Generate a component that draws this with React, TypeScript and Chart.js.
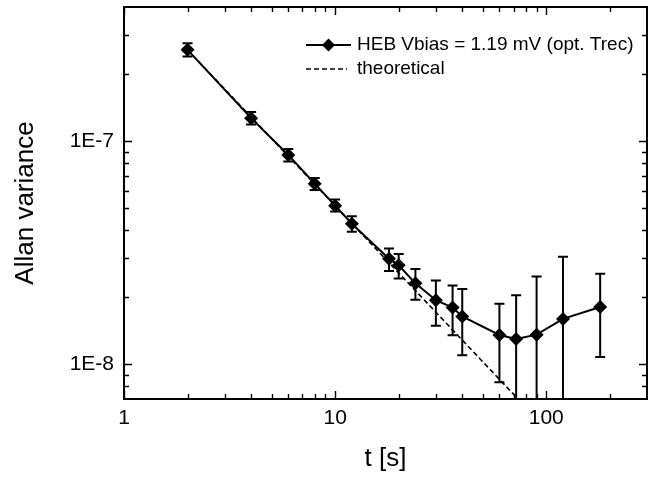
import React, { useEffect, useRef } from "react";
import { Chart, registerables } from "chart.js";

Chart.register(...registerables);

// ---- data ----
const tValues = [2, 4, 6, 8, 10, 12, 18, 20, 24, 30, 36, 40, 60, 72, 90, 120, 180];
const allanVar = [
  2.57e-7, 1.27e-7, 8.69e-8, 6.46e-8, 5.15e-8, 4.27e-8, 2.98e-8, 2.78e-8, 2.31e-8,
  1.94e-8, 1.8e-8, 1.64e-8, 1.355e-8, 1.3e-8, 1.36e-8, 1.6e-8, 1.81e-8,
];
const errHigh = [
  2.75e-7, 1.355e-7, 9.25e-8, 6.85e-8, 5.48e-8, 4.62e-8, 3.31e-8, 3.13e-8, 2.68e-8,
  2.38e-8, 2.26e-8, 2.18e-8, 1.87e-8, 2.04e-8, 2.48e-8, 3.04e-8, 2.55e-8,
];
const errLow = [
  2.4e-7, 1.19e-7, 8.12e-8, 6.05e-8, 4.85e-8, 3.93e-8, 2.62e-8, 2.43e-8, 1.95e-8,
  1.49e-8, 1.35e-8, 1.1e-8, 8.33e-9, 1e-9, 1e-9, 1e-9, 1.08e-8,
];
const theoryT = [2, 80];
const theoryV = [2.57e-7, 6.43e-9];

const seriesLabels = ["HEB Vbias = 1.19 mV (opt. Trec)", "theoretical"];
const xTickValues = [1, 10, 100];
const xTickLabels = ["1", "10", "100"];
const xMinorTicks = [2, 3, 4, 5, 6, 7, 8, 9, 20, 30, 40, 50, 60, 70, 80, 90, 200];
const yTickValues = [1e-8, 1e-7];
const yTickLabels = ["1E-8", "1E-7"];
const yMinorTicks = [8e-9, 9e-9, 2e-8, 3e-8, 4e-8, 5e-8, 6e-8, 7e-8, 8e-8, 9e-8, 2e-7, 3e-7];
const xTitle = "t [s]";
const yTitle = "Allan variance";

const FONT = "Arial, 'Liberation Sans', Helvetica, sans-serif";

const decorPlugin = {
  id: "decor",
  beforeDatasetsDraw(chart: any) {
    const { ctx, chartArea: a, scales } = chart;
    const x = scales.x;
    const y = scales.y;
    ctx.save();
    ctx.beginPath();
    ctx.rect(a.left, a.top, a.right - a.left, a.bottom - a.top);
    ctx.clip();
    ctx.strokeStyle = "#000";
    ctx.lineWidth = 2;
    tValues.forEach((t, i) => {
      const px = x.getPixelForValue(t);
      const yh = y.getPixelForValue(errHigh[i]);
      const yl = y.getPixelForValue(errLow[i]);
      ctx.beginPath();
      ctx.moveTo(px, yh);
      ctx.lineTo(px, yl);
      ctx.moveTo(px - 5, yh);
      ctx.lineTo(px + 5, yh);
      ctx.moveTo(px - 5, yl);
      ctx.lineTo(px + 5, yl);
      ctx.stroke();
    });
    ctx.restore();
  },
  afterDraw(chart: any) {
    const { ctx, chartArea: a, scales } = chart;
    const x = scales.x;
    const y = scales.y;
    ctx.save();
    ctx.strokeStyle = "#000";
    // ticks
    ctx.lineWidth = 1.4;
    const major = 8;
    const minor = 5;
    const drawX = (v: number, len: number) => {
      const px = Math.round(x.getPixelForValue(v)) + 0.5;
      ctx.beginPath();
      ctx.moveTo(px, a.bottom);
      ctx.lineTo(px, a.bottom - len);
      ctx.moveTo(px, a.top);
      ctx.lineTo(px, a.top + len);
      ctx.stroke();
    };
    const drawY = (v: number, len: number) => {
      const py = Math.round(y.getPixelForValue(v)) + 0.5;
      ctx.beginPath();
      ctx.moveTo(a.left, py);
      ctx.lineTo(a.left + len, py);
      ctx.moveTo(a.right, py);
      ctx.lineTo(a.right - len, py);
      ctx.stroke();
    };
    xTickValues.forEach((v) => drawX(v, major));
    xMinorTicks.forEach((v) => drawX(v, minor));
    yTickValues.forEach((v) => drawY(v, major));
    yMinorTicks.forEach((v) => drawY(v, minor));
    // frame
    ctx.lineWidth = 2;
    ctx.strokeRect(a.left, a.top, a.right - a.left, a.bottom - a.top);

    // legend
    const lx0 = a.left + 182;
    const lx1 = a.left + 227;
    const ly1 = a.top + 38;
    const ly2 = a.top + 62;
    ctx.lineWidth = 2;
    ctx.beginPath();
    ctx.moveTo(lx0, ly1);
    ctx.lineTo(lx1, ly1);
    ctx.stroke();
    const cx = (lx0 + lx1) / 2;
    ctx.fillStyle = "#000";
    ctx.beginPath();
    ctx.moveTo(cx - 6.5, ly1);
    ctx.lineTo(cx, ly1 - 6.5);
    ctx.lineTo(cx + 6.5, ly1);
    ctx.lineTo(cx, ly1 + 6.5);
    ctx.closePath();
    ctx.fill();
    ctx.lineWidth = 1.6;
    ctx.setLineDash([5, 3]);
    ctx.beginPath();
    ctx.moveTo(lx0, ly2);
    ctx.lineTo(lx1 - 4, ly2);
    ctx.stroke();
    ctx.setLineDash([]);
    ctx.font = `19px ${FONT}`;
    ctx.textBaseline = "middle";
    ctx.textAlign = "left";
    ctx.fillText(seriesLabels[0], lx1 + 6, ly1);
    ctx.fillText(seriesLabels[1], lx1 + 6, ly2);
    ctx.restore();
  },
};

export default function App() {
  const ref = useRef<HTMLCanvasElement>(null);
  useEffect(() => {
    if (!ref.current) return;
    const chart = new Chart(ref.current, {
      type: "line",
      data: {
        datasets: [
          {
            label: seriesLabels[0],
            data: tValues.map((t, i) => ({ x: t, y: allanVar[i] })),
            borderColor: "#000",
            backgroundColor: "#000",
            borderWidth: 2,
            pointStyle: "rectRot",
            pointRadius: 7,
            pointBorderWidth: 0,
            pointBackgroundColor: "#000",
            tension: 0,
            order: 0,
          },
          {
            label: seriesLabels[1],
            data: theoryT.map((t, i) => ({ x: t, y: theoryV[i] })),
            borderColor: "#000",
            borderWidth: 1.6,
            borderDash: [5, 3],
            pointRadius: 0,
            tension: 0,
            order: 1,
          },
        ],
      },
      options: {
        animation: false,
        responsive: false,
        devicePixelRatio: 1,
        layout: { padding: { top: 7, right: 6, left: 0, bottom: 0 } },
        plugins: {
          legend: { display: false },
          tooltip: { enabled: false },
        },
        scales: {
          x: {
            type: "logarithmic",
            min: 1,
            max: 300,
            grid: { display: false, drawTicks: false },
            border: { display: false },
            afterBuildTicks: (s: any) => {
              s.ticks = xTickValues.map((v) => ({ value: v }));
            },
            afterFit: (s: any) => {
              s.height = 78;
              s.paddingLeft = 0;
              s.paddingRight = 0;
            },
            ticks: {
              autoSkip: false,
              maxRotation: 0,
              padding: 7,
              color: "#000",
              font: { family: FONT, size: 21 },
              callback: (v: any) => {
                const i = xTickValues.indexOf(Number(v));
                return i >= 0 ? xTickLabels[i] : "";
              },
            },
            title: {
              display: true,
              text: xTitle,
              color: "#000",
              font: { family: FONT, size: 26 },
              padding: { top: 0, bottom: 3 },
            },
          },
          y: {
            type: "logarithmic",
            min: 7e-9,
            max: 4e-7,
            grid: { display: false, drawTicks: false },
            border: { display: false },
            afterBuildTicks: (s: any) => {
              s.ticks = yTickValues.map((v) => ({ value: v }));
            },
            afterFit: (s: any) => {
              s.width = 124;
              s.paddingTop = 0;
              s.paddingBottom = 0;
            },
            ticks: {
              autoSkip: false,
              padding: 10,
              color: "#000",
              font: { family: FONT, size: 21 },
              callback: (v: any) => {
                const i = yTickValues.findIndex((t) => Math.abs(t - Number(v)) / t < 1e-6);
                return i >= 0 ? yTickLabels[i] : "";
              },
            },
            title: {
              display: true,
              text: yTitle,
              color: "#000",
              font: { family: FONT, size: 26 },
              padding: { top: 10, bottom: 0 },
            },
          },
        },
      },
      plugins: [decorPlugin],
    } as any);
    return () => chart.destroy();
  }, []);

  return (
    <div style={{ position: "fixed", left: 0, top: 0, width: 654, height: 477, background: "#fff" }}>
      <canvas ref={ref} width={654} height={477} style={{ display: "block", width: 654, height: 477 }} />
    </div>
  );
}
